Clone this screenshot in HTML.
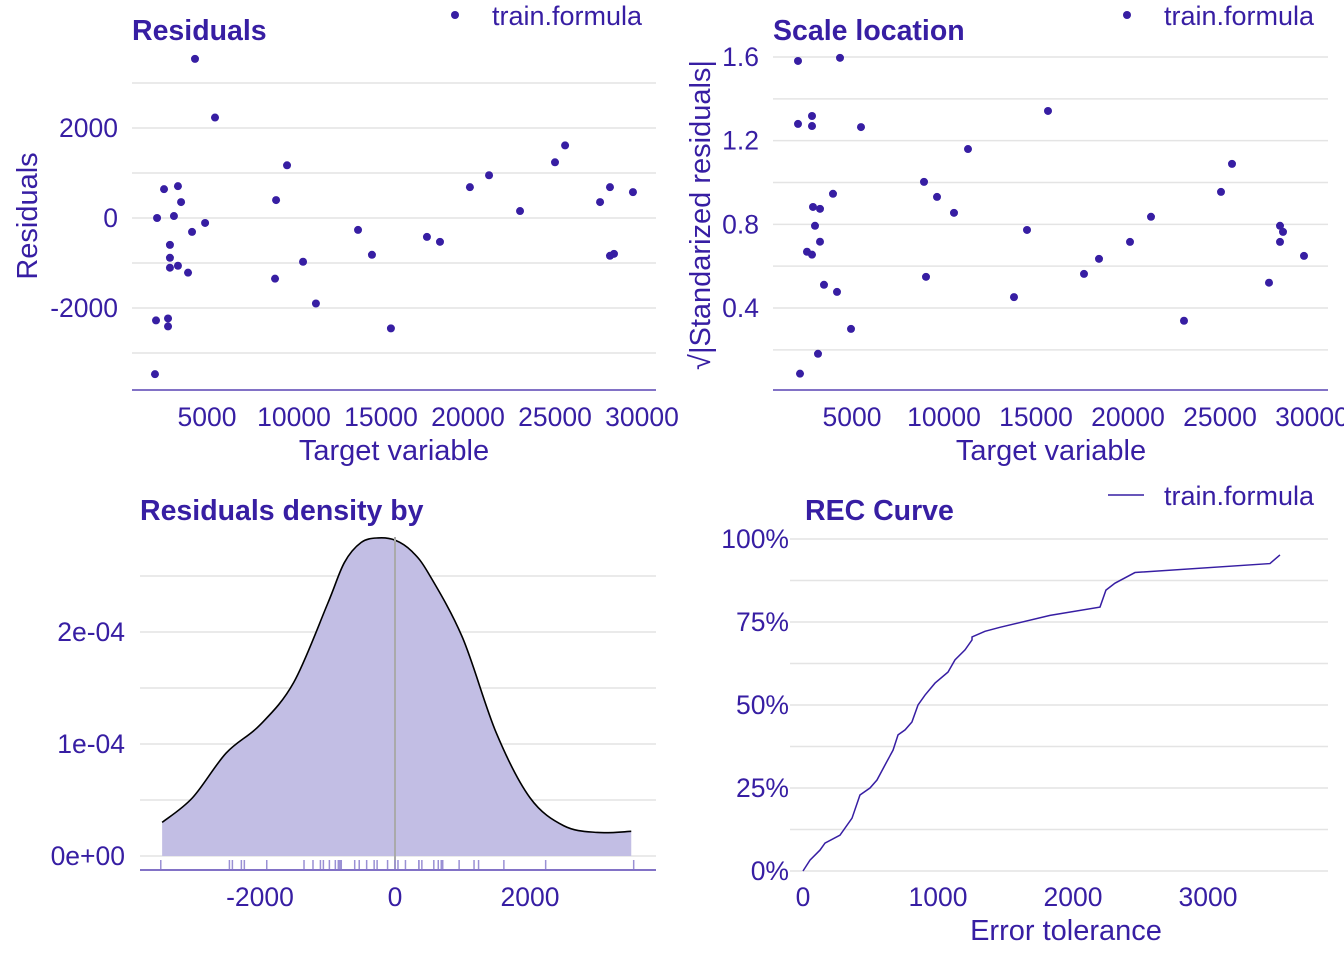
<!DOCTYPE html>
<html><head><meta charset="utf-8">
<style>
html,body{margin:0;padding:0;background:#fff;}
svg{display:block;font-family:"Liberation Sans",Arial,sans-serif;}
</style></head><body>
<svg id="c" width="1344" height="960" xmlns="http://www.w3.org/2000/svg"></svg>
<script>
// ---- data ----
const targetX = [4310,5460,2530,3330,3510,2130,3100,4890,4140,2870,2870,2870,3330,3910,2070,2760,2760,2010,8970,9600,10520,8910,11260,13680,14480,15570,17640,18390,20110,21210,22990,25000,25580,27590,28160,28160,28390,29480];
const residuals = [3536,2232,641,707,354,0,44,-110,-309,-597,-884,-1105,-1061,-1215,-2276,-2232,-2409,-3470,398,1171,-972,-1348,-1900,-265,-818,-2453,-420,-530,685,950,155,1238,1613,354,685,-840,-796,575];
const slX = [2065,2065,2826,2826,4348,5489,2880,3261,2989,2554,2826,3261,3967,3478,4185,4946,3152,2174,8913,9620,10543,9022,11304,13804,14511,15652,17609,18424,20109,21250,23043,25054,25652,27663,28261,28424,28261,29565];
const slY = [1.581,1.280,1.318,1.270,1.596,1.265,0.883,0.874,0.793,0.669,0.655,0.717,0.946,0.511,0.477,0.300,0.181,0.086,1.003,0.931,0.855,0.549,1.160,0.452,0.773,1.342,0.563,0.635,0.716,0.836,0.339,0.955,1.089,0.521,0.793,0.764,0.716,0.649];
const densX = [-3450,-3000,-2500,-2000,-1500,-1000,-750,-500,-250,0,250,500,1000,1500,2000,2500,3000,3500];
const densY = [0.30e-4,0.52e-4,0.92e-4,1.17e-4,1.55e-4,2.25e-4,2.62e-4,2.80e-4,2.84e-4,2.82e-4,2.72e-4,2.52e-4,1.95e-4,1.10e-4,0.52e-4,0.27e-4,0.21e-4,0.22e-4];
const recErr = [0,52,126,163,274,363,422,496,548,607,667,704,756,807,852,904,978,1074,1126,1200,1252,1252,1348,1459,1830,2200,2244,2311,2459,3459,3533];
const recAcc = [0,3.3,6.3,8.4,10.8,15.9,22.9,25.0,27.4,31.9,36.4,41.0,42.5,44.9,50.0,53.0,56.6,59.9,63.6,66.6,69.6,70.5,72.2,73.4,77.0,79.5,84.6,86.7,89.9,92.6,95.2]; // percent
const resTicksX=[5000,10000,15000,20000,25000,30000];
const resTicksY=[-2000,0,2000];
const slTicksY=[0.4,0.8,1.2,1.6];
const densTicksX=[-2000,0,2000];
const densTicksY=[0,1e-4,2e-4];
const densTickLab=["0e+00","1e-04","2e-04"];
const recTicksX=[0,1000,2000,3000];
const recTicksY=[0,25,50,75,100];

const C="#371ea3", G="#e4e4e4";
const FT=26.5, FA=29, FH=28.5, FL=27;
const svg=document.getElementById('c');
const NS="http://www.w3.org/2000/svg";
function mk(tag,at,parent){const e=document.createElementNS(NS,tag);for(const k in at)e.setAttribute(k,at[k]);(parent||svg).appendChild(e);return e;}
function txt(s,x,y,at){const e=mk('text',Object.assign({x:x,y:y,fill:C,'font-size':FT},at||{}));e.textContent=s;return e;}
function lin(d0,d1,r0,r1){return v=>r0+(v-d0)/(d1-d0)*(r1-r0);}
function smooth(pts){let d='M'+pts[0][0]+','+pts[0][1];for(let i=0;i<pts.length-1;i++){const p0=pts[i-1]||pts[i],p1=pts[i],p2=pts[i+1],p3=pts[i+2]||p2;const c1=[p1[0]+(p2[0]-p0[0])/6,p1[1]+(p2[1]-p0[1])/6],c2=[p2[0]-(p3[0]-p1[0])/6,p2[1]-(p3[1]-p1[1])/6];d+=' C'+c1+' '+c2+' '+p2;}return d;}

// ---------- Panel 1: Residuals ----------
(function(){
 const g=mk('g',{});
 
 
 const x=lin(5000,30000,207,642), y=lin(0,2000,218,128);
 for(let v=-3000;v<=3000;v+=1000){const l=mk('line',{x1:132,x2:656,y1:y(v),y2:y(v),stroke:G,'stroke-width':1.5},g);}
 const ax=mk('line',{x1:132,x2:656,y1:390,y2:390,stroke:C,'stroke-width':1.2},g);
 
 resTicksX.forEach(v=>{const t=txt(v,x(v),426,{'text-anchor':'middle'});g.appendChild(t);});
 resTicksY.forEach(v=>{const t=txt(v,118,y(v)+9,{'text-anchor':'end'});g.appendChild(t);});
 targetX.forEach((v,i)=>{const p=mk('circle',{cx:x(v),cy:y(residuals[i]),r:4,fill:C},g);});
 let t=txt('Residuals',132,40,{'font-size':FH,'font-weight':'bold'});
 t=txt('Target variable',394,460,{'font-size':FA,'text-anchor':'middle'});
 t=txt('Residuals',0,0,{'font-size':FA,'text-anchor':'middle',transform:'translate(37,216) rotate(-90)'});
 const ld=mk('circle',{cx:455,cy:15,r:4,fill:C});
 t=txt('train.formula',492,25,{'font-size':FL});
})();

// ---------- Panel 2: Scale location ----------
(function(){
 const g=mk('g',{});
 
 
 const x=lin(5000,30000,852,1312), y=lin(0.4,1.6,308,57);
 for(let v=0.2;v<=1.61;v+=0.2){const l=mk('line',{x1:773,x2:1328,y1:y(v),y2:y(v),stroke:G,'stroke-width':1.5},g);}
 const ax=mk('line',{x1:773,x2:1328,y1:390,y2:390,stroke:C,'stroke-width':1.2},g);
 
 resTicksX.forEach(v=>{const t=txt(v,x(v),426,{'text-anchor':'middle'});g.appendChild(t);});
 slTicksY.forEach(v=>{const t=txt(v.toFixed(1),759,y(v)+9,{'text-anchor':'end'});g.appendChild(t);});
 slX.forEach((v,i)=>{const p=mk('circle',{cx:x(v),cy:y(slY[i]),r:4,fill:C},g);});
 let t=txt('Scale location',773,40,{'font-size':FH,'font-weight':'bold'});
 t=txt('Target variable',1051,460,{'font-size':FA,'text-anchor':'middle'});
 t=txt('√|Standarized residuals|',0,0,{'font-size':FA,'text-anchor':'middle',transform:'translate(710,215) rotate(-90)'});
 const ld=mk('circle',{cx:1127,cy:15,r:4,fill:C});
 t=txt('train.formula',1164,25,{'font-size':FL});
})();

// ---------- Panel 3: Density ----------
(function(){
 const g=mk('g',{});
 
 
 const x=lin(0,2000,395,530), y=lin(0,1e-4,856,744);
 for(let v=0;v<=2.6e-4;v+=0.5e-4){const l=mk('line',{x1:140,x2:656,y1:y(v),y2:y(v),stroke:G,'stroke-width':1.5},g);}
 const pts=densX.map((v,i)=>[x(v),y(densY[i])]);
 const sp=smooth(pts);
 const d=sp+' L'+x(densX[densX.length-1])+','+y(0)+' L'+x(densX[0])+','+y(0)+' Z';
 const a=mk('path',{d:d,fill:'#c2bee4',stroke:'none'},g);
 const ln=mk('path',{d:sp,fill:'none',stroke:'#000','stroke-width':1.6,'stroke-linejoin':'round'},g);
 const zl=mk('line',{x1:x(0),x2:x(0),y1:537,y2:869,stroke:'#aaa','stroke-width':2},g);
 residuals.forEach(v=>{const r=mk('line',{x1:x(v),x2:x(v),y1:860,y2:869,stroke:'#9a90d4','stroke-width':1.5},g);});
 const ax=mk('line',{x1:140,x2:656,y1:870,y2:870,stroke:C,'stroke-width':1.2},g);
 densTicksX.forEach(v=>{const t=txt(v,x(v),906,{'text-anchor':'middle'});g.appendChild(t);});
 densTicksY.forEach((v,i)=>{const t=txt(densTickLab[i],125,y(v)+9,{'text-anchor':'end'});g.appendChild(t);});
 const t=txt('Residuals density by',140,520,{'font-size':FH,'font-weight':'bold'});
})();

// ---------- Panel 4: REC ----------
(function(){
 const g=mk('g',{});
 
 
 const x=lin(0,1000,803,938), y=lin(0,100,871,539);
 for(let v=0;v<=100;v+=12.5){const l=mk('line',{x1:790,x2:1328,y1:y(v),y2:y(v),stroke:G,'stroke-width':1.5},g);}
 let d='';
 recErr.forEach((v,i)=>{d+=(i?' L':'M')+x(v)+','+y(recAcc[i]);});
 const ln=mk('path',{d:d,fill:'none',stroke:C,'stroke-width':1.5},g);
 recTicksX.forEach(v=>{const t=txt(v,x(v),906,{'text-anchor':'middle'});g.appendChild(t);});
 recTicksY.forEach(v=>{const t=txt(v+'%',789,y(v)+9,{'text-anchor':'end'});g.appendChild(t);});
 let t=txt('REC Curve',805,520,{'font-size':FH,'font-weight':'bold'});
 t=txt('Error tolerance',1066,940,{'font-size':FA,'text-anchor':'middle'});
 const lm=mk('line',{x1:1108,x2:1144,y1:495,y2:495,stroke:C,'stroke-width':1.5});
 t=txt('train.formula',1164,505,{'font-size':FL});
})();
</script>
</body></html>
